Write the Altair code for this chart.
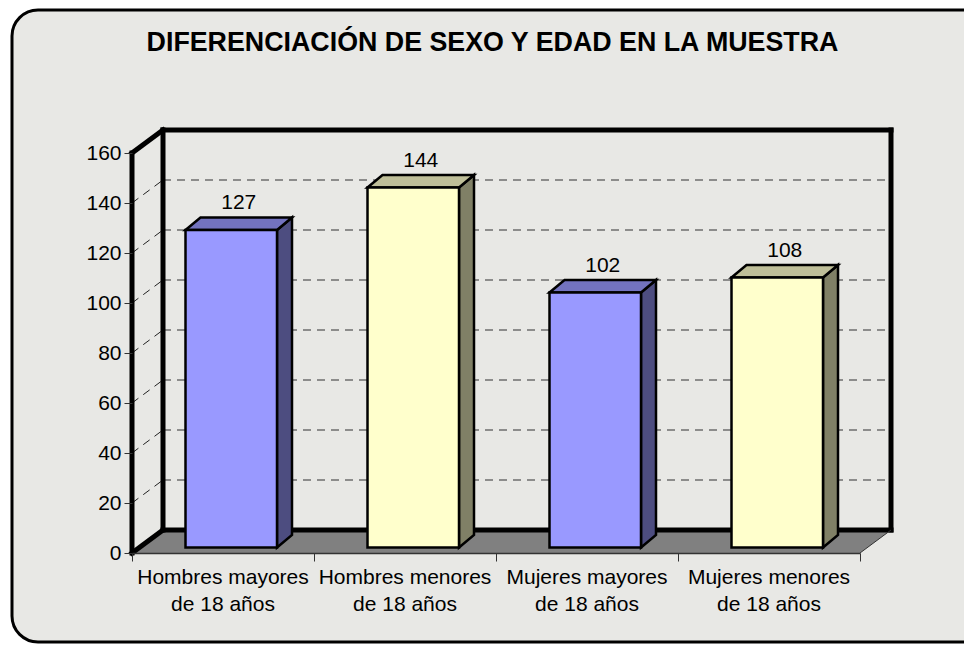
import altair as alt
import pandas as pd

# ---- values ----
categories = ["Hombres mayores\nde 18 años", "Hombres menores\nde 18 años",
              "Mujeres mayores\nde 18 años", "Mujeres menores\nde 18 años"]
values = [127, 144, 102, 108]
y_ticks = [0, 20, 40, 60, 80, 100, 120, 140, 160]
title_text = "DIFERENCIACIÓN DE SEXO Y EDAD EN LA MUESTRA"

FONT = "Liberation Sans"
W, H = 728, 400
SLOT = W / 4
UNIT = H / 160
WALL_DX, WALL_DY = 31 / SLOT, 23 / UNIT      # depth of the box
BAR_DX, BAR_DY = 15 / SLOT, 12.5 / UNIT      # depth of a bar
BAR_L, BAR_W = 53.5 / SLOT, 91.5 / SLOT
BASE = 5.5 / UNIT
FACE = ["#9999FF", "#FFFFCC"]
SIDE = ["#4D4D80", "#808066"]
TOP = ["#7373BF", "#BFBF99"]

X = alt.Scale(domain=[0, 4], nice=False, zero=False)
Y = alt.Scale(domain=[0, 160], nice=False, zero=False)
AX_X = alt.Axis(values=[0, 1, 2, 3, 4], labels=False, grid=False, tickSize=8,
                tickColor="#333333", domainColor="#333333", domainWidth=1.5, zindex=1)
AX_Y = alt.Axis(values=y_ticks, grid=False, domain=False, tickSize=8, tickColor="#333333",
                labelFont=FONT, labelFontSize=21, labelColor="black", labelPadding=3, zindex=1)
x_q = alt.X("x:Q", scale=X, axis=AX_X, title=None)
y_q = alt.Y("y:Q", scale=Y, axis=AX_Y, title=None)

rows_face, rows_side, rows_top, rows_label = [], [], [], []
for i, v in enumerate(values):
    l = i + BAR_L
    r = l + BAR_W
    t = v + BASE
    c = i % 2
    rows_face.append(dict(x=l, x2=r, y=t, y2=BASE, fill=FACE[c]))
    for px, py, py2 in [(r, t, BASE), (r + BAR_DX, t + BAR_DY, BASE + BAR_DY)]:
        rows_side.append(dict(x=px, y=py, y2=py2, bar=i, fill=SIDE[c]))
    for px, py, py2 in [(l, t, t), (l + BAR_DX, t + BAR_DY, t),
                        (r, t + BAR_DY, t), (r + BAR_DX, t + BAR_DY, t + BAR_DY)]:
        rows_top.append(dict(x=px, y=py, y2=py2, bar=i, fill=TOP[c]))
    rows_label.append(dict(x=(l + r + BAR_DX) / 2, y=t, label=str(v)))

# frame
frame = alt.Chart(pd.DataFrame({"a": [0]})).mark_rect(
    fill="#E8E8E5", stroke="black", strokeWidth=3, cornerRadius=26
).encode(x=alt.value(12 - 132), x2=alt.value(990 - 132),
         y=alt.value(10 - 153), y2=alt.value(642 - 153))

# title
title = alt.Chart(pd.DataFrame({"t": [title_text]})).mark_text(
    font=FONT, fontSize=26.8, fontWeight="bold", color="black", baseline="alphabetic", align="center"
).encode(x=alt.value(492.5 - 132), y=alt.value(51 - 153), text="t:N")

# floor
floor_df = pd.DataFrame([dict(x=0, y=0, y2=0), dict(x=WALL_DX, y=WALL_DY, y2=0),
                         dict(x=4, y=WALL_DY, y2=0), dict(x=4 + WALL_DX, y=WALL_DY, y2=WALL_DY)])
floor = alt.Chart(floor_df).mark_area(color="#808080", orient="vertical").encode(
    x=x_q, y=y_q, y2="y2:Q")

# grid on the back wall and slanted on the side wall
grid_vals = [v for v in y_ticks if 0 < v < 160]
grid_back = alt.Chart(pd.DataFrame([dict(x=WALL_DX, x2=4 + WALL_DX, y=v + WALL_DY, y2=v + WALL_DY)
                                    for v in grid_vals])).mark_rule(
    color="#6E6E6E", strokeWidth=1.5, strokeDash=[8, 6]
).encode(x=x_q, x2="x2:Q", y=y_q, y2="y2:Q")
grid_side = alt.Chart(pd.DataFrame([dict(x=0, x2=WALL_DX, y=v, y2=v + WALL_DY)
                                    for v in grid_vals])).mark_rule(
    color="#222222", strokeWidth=1, strokeDash=[8, 6]
).encode(x=x_q, x2="x2:Q", y=y_q, y2="y2:Q")

# walls
walls_df = pd.DataFrame([
    dict(x=0, x2=0, y=0, y2=160),
    dict(x=0, x2=WALL_DX, y=160, y2=160 + WALL_DY),
    dict(x=0, x2=WALL_DX, y=0, y2=WALL_DY),
    dict(x=WALL_DX, x2=WALL_DX, y=WALL_DY, y2=160 + WALL_DY),
    dict(x=WALL_DX, x2=4 + WALL_DX, y=160 + WALL_DY, y2=160 + WALL_DY),
    dict(x=4 + WALL_DX, x2=4 + WALL_DX, y=WALL_DY, y2=160 + WALL_DY),
    dict(x=WALL_DX, x2=4 + WALL_DX, y=WALL_DY, y2=WALL_DY),
])
walls = alt.Chart(walls_df).mark_rule(color="black", strokeWidth=5, strokeCap="square").encode(
    x=x_q, x2="x2:Q", y=y_q, y2="y2:Q")
floor_edge = alt.Chart(pd.DataFrame([dict(x=4, x2=4 + WALL_DX, y=0, y2=WALL_DY)])).mark_rule(
    color="#333333", strokeWidth=1).encode(x=x_q, x2="x2:Q", y=y_q, y2="y2:Q")

# bars
BAR_STROKE = dict(stroke="black", strokeWidth=2.5, strokeJoin="miter")
faces = alt.Chart(pd.DataFrame(rows_face)).mark_rect(**BAR_STROKE).encode(
    x=x_q, x2="x2:Q", y=y_q, y2="y2:Q", fill=alt.Fill("fill:N", scale=None))
sides = alt.Chart(pd.DataFrame(rows_side)).mark_area(orient="vertical", **BAR_STROKE).encode(
    x=x_q, y=y_q, y2="y2:Q", fill=alt.Fill("fill:N", scale=None), detail="bar:N")
tops = alt.Chart(pd.DataFrame(rows_top)).mark_area(orient="vertical", **BAR_STROKE).encode(
    x=x_q, y=y_q, y2="y2:Q", fill=alt.Fill("fill:N", scale=None), detail="bar:N")

labels = alt.Chart(pd.DataFrame(rows_label)).mark_text(
    font=FONT, fontSize=21, color="black", baseline="middle", dy=-27
).encode(x=x_q, y=y_q, text="label:N")

cat_df = pd.DataFrame(dict(x=[i + 0.5 for i in range(4)], label=categories))
cats = alt.Chart(cat_df).mark_text(
    font=FONT, fontSize=21, color="black", baseline="top", lineBreak="\n", lineHeight=27
).encode(x=x_q, y=alt.value(414), text="label:N")

chart = alt.layer(
    frame, title, floor, grid_back, grid_side, walls, floor_edge, sides, tops, faces, labels, cats
).properties(
    width=W, height=H,
    padding=dict(left=124, top=145, right=104, bottom=91),
    autosize=alt.AutoSizeParams(type="none"),
).configure_view(stroke=None).configure(background="white")

chart.save("out.html", embed_options={"renderer": "svg", "actions": False})
